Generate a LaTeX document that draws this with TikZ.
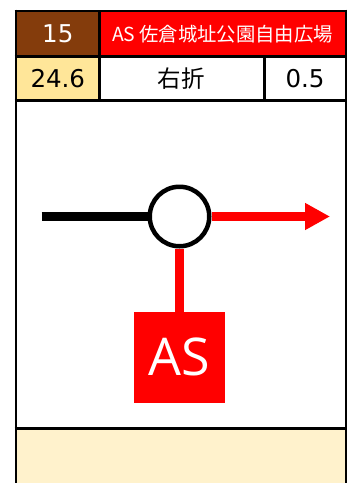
\documentclass[tikz,border=0pt]{standalone}
\usepackage{fontspec}
\usepackage{graphicx}
\usetikzlibrary{arrows.meta}
\newfontfamily\jpfont{Noto Sans CJK JP}
\newfontfamily\numfont{DejaVu Sans}
\newfontfamily\boxfont{Open Sans}
\definecolor{cellbrown}{HTML}{843C0C}
\definecolor{cellgold}{HTML}{FFE699}
\definecolor{cellcream}{HTML}{FFF2CC}
\definecolor{cellred}{HTML}{FF0000}
\tikzset{
  cell/.style={inner sep=0pt, outer sep=0pt, anchor=center},
  gridline/.style={line width=2.7pt, black},
  roadline/.style={line width=8.4pt},
}
\begin{document}
\begin{tikzpicture}[x=1pt,y=-1pt]
\useasboundingbox (0,0) rectangle (354,483);
% fills
\fill[cellbrown] (16,11) rectangle (99.5,56.2);
\fill[cellred] (99.5,11) rectangle (346,56.2);
\fill[cellgold] (16,56.2) rectangle (99.5,100.3);
\fill[white] (99.5,56.2) rectangle (346,428.3);
\fill[cellcream] (16,428.3) rectangle (346,483);
% texts
\node[cell, text=white, font=\numfont\fontsize{24.5}{26}\selectfont] (num) at (57.8,33.7) {15};
\node[cell, text=white, font=\jpfont\fontsize{21}{23}\selectfont] (title) at (222.5,33.7) {\resizebox{221pt}{!}{AS 佐倉城址公園自由広場}};
\node[cell, font=\numfont\fontsize{24.5}{26}\selectfont] (dist) at (57.8,78.2) {24.6};
\node[cell, font=\jpfont\fontsize{23.5}{25}\selectfont] (turn) at (181,78.2) {右折};
\node[cell, font=\numfont\fontsize{24.5}{26}\selectfont] (leg) at (305,78.2) {0.5};
% grid
\draw[gridline] (16,9.65) -- (16,483);
\draw[gridline] (346,9.65) -- (346,483);
\draw[gridline] (14.65,11) -- (347.35,11);
\draw[gridline] (14.65,56.2) -- (347.35,56.2);
\draw[gridline] (14.65,100.3) -- (347.35,100.3);
\draw[gridline] (14.65,428.3) -- (347.35,428.3);
\draw[gridline] (99.5,11) -- (99.5,100.3);
\draw[gridline] (264.5,56.2) -- (264.5,100.3);
% diagram
\node[circle, draw=black, line width=4.5pt, fill=white, minimum size=59.5pt, inner sep=0pt] (jct) at (179.5,216.5) {};
\node[cell, fill=cellred, minimum size=91pt, text=white, font=\boxfont\fontsize{52}{56}\selectfont] (as) at (179.5,357.3) {AS};
\coordinate (start) at (41.7,216.5);
\coordinate (tip) at (330,216.5);
\draw[roadline, black] (start) -- (jct.west);
\draw[roadline, cellred, -{Triangle[length=25pt,width=25.4pt]}] (jct.east) -- (tip);
\draw[roadline, cellred] (jct.south) -- (as.north);
\end{tikzpicture}
\end{document}
